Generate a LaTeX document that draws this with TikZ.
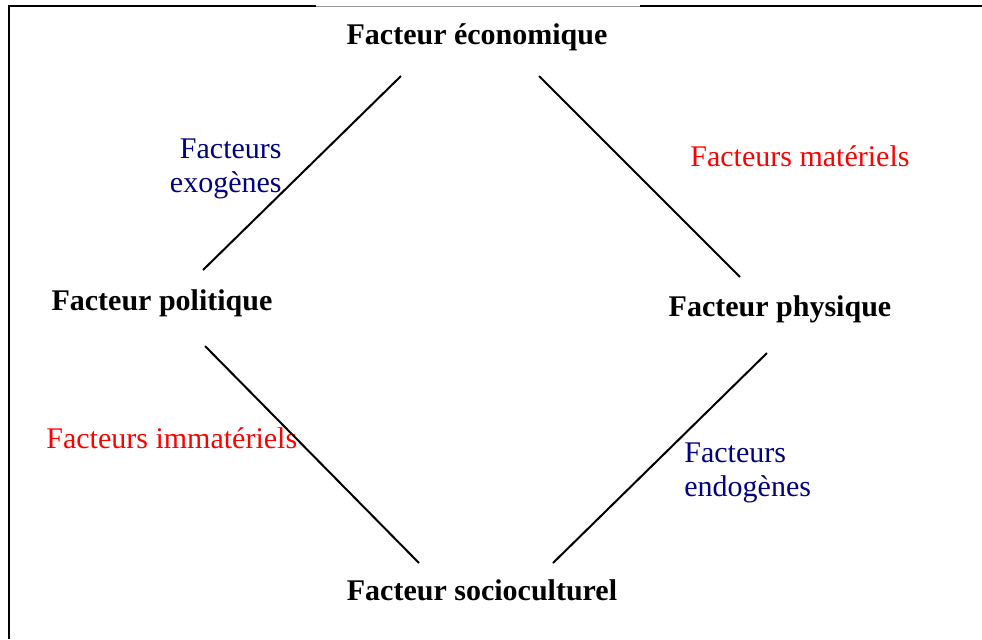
\documentclass[tikz,border=0pt]{standalone}
\usepackage{fontspec}
\setmainfont{Liberation Serif}
\definecolor{navyblue}{RGB}{0,0,128}
\definecolor{pureRed}{RGB}{255,0,0}
\definecolor{frameGrey}{RGB}{150,150,150}
\begin{document}
\begin{tikzpicture}[x=0.5pt,y=-0.5pt,
  factor/.style={font=\fontsize{15}{15}\selectfont\bfseries, anchor=base, inner sep=0pt},
  blueLabel/.style={font=\fontsize{15}{17}\selectfont, text=navyblue, inner sep=0pt},
  redLabel/.style={font=\fontsize{15}{15}\selectfont, text=pureRed, inner sep=0pt, anchor=base west},
  link/.style={line width=1pt},
  frame/.style={line width=1pt}]
\useasboundingbox (0,0) rectangle (982,639);
% frame
\coordinate (fa) at (8,6);
\coordinate (fb) at (316,6);
\coordinate (fc) at (640,6);
\coordinate (fd) at (982,6);
\coordinate (fe) at (9,6);
\coordinate (ff) at (9,639);
\draw[frame] (fa) -- (fb);
\draw[line width=0.5pt, frameGrey] (fb) -- (fc);
\draw[frame] (fc) -- (fd);
\draw[frame] (fe) -- (ff);
% factor nodes
\node[factor] (eco) at (477,44) {Facteur économique};
\node[factor] (pol) at (162,310) {Facteur politique};
\node[factor] (phy) at (780,316) {Facteur physique};
\node[factor] (soc) at (482,600) {Facteur socioculturel};
% labels
\node[blueLabel, anchor=base east, align=right] (exo) at (282,192) {Facteurs\\exogènes};
\node[blueLabel, anchor=base west, align=left] (endo) at (684,496) {Facteurs\\endogènes};
\node[redLabel] (mat) at (690,166) {Facteurs matériels};
\node[redLabel] (immat) at (46,448) {Facteurs immatériels};
% connector end points
\coordinate (eco-l) at (401,76);
\coordinate (eco-r) at (539,76);
\coordinate (pol-t) at (203,270);
\coordinate (pol-b) at (205,346);
\coordinate (phy-t) at (740,277);
\coordinate (phy-b) at (767,353);
\coordinate (soc-l) at (419,563);
\coordinate (soc-r) at (553,563);
\draw[link] (pol-t) -- (eco-l);
\draw[link] (eco-r) -- (phy-t);
\draw[link] (pol-b) -- (soc-l);
\draw[link] (phy-b) -- (soc-r);
\end{tikzpicture}
\end{document}
